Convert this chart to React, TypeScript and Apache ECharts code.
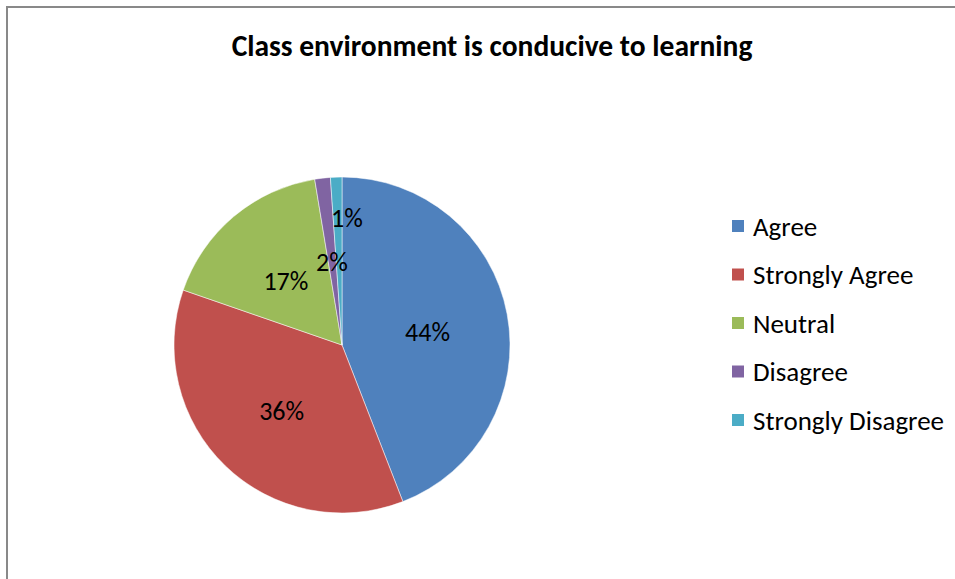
import React, { useEffect, useRef } from "react";
import * as echarts from "echarts";

const titleText = "Class environment is conducive to learning";
const categories = ["Agree", "Strongly Agree", "Neutral", "Disagree", "Strongly Disagree"];
const values = [44.1, 36.2, 17.1, 1.5, 1.1];
const colors = ["#4F81BD", "#C0504D", "#9BBB59", "#8064A2", "#4BACC6"];

const FONT = "Carlito, Calibri, Lato, sans-serif";

export default function App() {
  const ref = useRef<HTMLDivElement>(null);
  useEffect(() => {
    if (!ref.current) return;
    const chart = echarts.init(ref.current, null, { renderer: "svg" });
    chart.setOption({
      animation: false,
      backgroundColor: "#ffffff",
      title: {
        text: titleText,
        left: 487,
        top: 26,
        textAlign: "center",
        textStyle: { fontFamily: FONT, fontWeight: "bold", fontSize: 29.5, color: "#000000" },
      },
      legend: {
        orient: "vertical",
        left: 725,
        top: 206,
        itemWidth: 14,
        itemHeight: 14,
        itemGap: 18.5,
        icon: "rect",
        data: categories,
        textStyle: {
          fontFamily: FONT,
          fontSize: 27,
          color: "#000000",
          lineHeight: 30,
          padding: [0, 0, 0, 3],
        },
      },
      graphic: [
        {
          type: "rect",
          shape: { x: 7, y: 7, width: 980, height: 600 },
          style: { fill: "none", stroke: "#898989", lineWidth: 2 },
          silent: true,
        },
      ],
      series: [
        {
          type: "pie",
          center: [342, 345],
          radius: 168,
          startAngle: 90,
          clockwise: true,
          color: colors,
          itemStyle: { borderColor: "#ffffff", borderWidth: 0.5 },
          label: {
            show: true,
            position: "inside",
            fontFamily: FONT,
            fontSize: 26,
            color: "#000000",
            formatter: (p: any) => `${Math.round(p.percent)}%`,
          },
          labelLine: { show: false },
          labelLayout: (p: any) => (p.dataIndex === 4 ? { dx: 8, dy: -40 } : { dy: 3 }),
          data: categories.map((c, i) => ({ name: c, value: values[i] })),
        },
      ],
    });
    return () => chart.dispose();
  }, []);
  return (
    <div
      ref={ref}
      style={{ position: "fixed", left: 0, top: 0, width: 955, height: 579 }}
    />
  );
}
